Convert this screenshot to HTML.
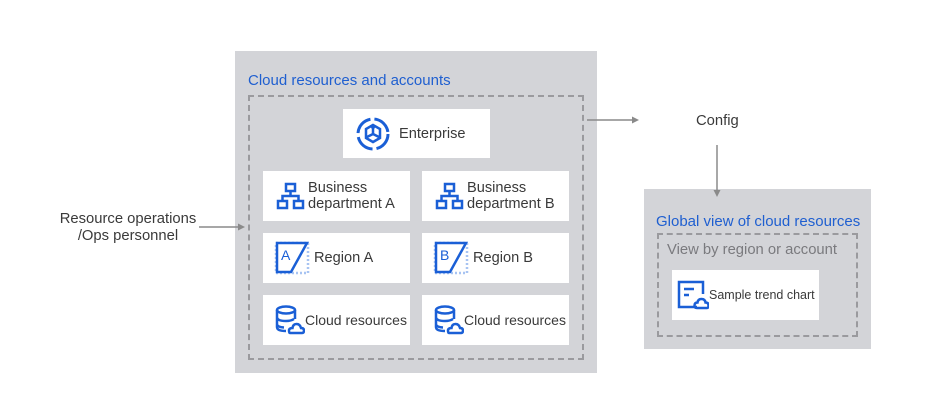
<!DOCTYPE html>
<html><head><style>
body{margin:0;width:948px;height:419px;background:#fff;position:relative;font-family:"Liberation Sans",sans-serif;overflow:hidden}
.a{position:absolute}
.g{background:#d3d4d8}
.d{border:2px dashed #9a9a9e;box-sizing:border-box}
.c{background:#fff;position:absolute;display:flex;align-items:center;color:#3a3a3a;font-size:14.6px;line-height:16px;white-space:nowrap}
.t{color:#1f5fd0;font-size:15px;position:absolute}
svg{flex:none}
</style></head><body>
<div class="a g" style="left:235px;top:51px;width:362px;height:322px"></div>
<div class="t" style="left:248px;top:72px">Cloud resources and accounts</div>
<div class="a d" style="left:248px;top:95px;width:336px;height:265px"></div>

<div class="c" style="left:343px;top:109px;width:147px;height:49px">
<svg width="36" height="36" viewBox="0 0 36 36" style="margin-left:12px;margin-right:8px"><circle cx="18" cy="18" r="15" fill="none" stroke="#1a5fd6" stroke-width="3" stroke-dasharray="20 4"/><path d="M18 9 L25 13 L25 22 L18 26 L11 22 L11 13Z M18 18 L18 11 M18 18 L24 21 M18 18 L12 21" fill="none" stroke="#1a5fd6" stroke-width="2.5"/><circle cx="18" cy="11" r="2" fill="#1a5fd6"/></svg>Enterprise</div>

<div class="c" style="left:263px;top:171px;width:147px;height:50px">
<svg width="30" height="28" viewBox="0 0 30 28" style="margin-left:13px;margin-right:2px"><g fill="none" stroke="#1a5fd6" stroke-width="2.5"><rect x="10" y="2" width="9" height="7"/><rect x="2" y="19" width="9" height="7"/><rect x="18" y="19" width="9" height="7"/><path d="M14.5 9V14M6.5 19V14H22.5V19"/></g></svg><span>Business<br>department A</span></div>
<div class="c" style="left:422px;top:171px;width:147px;height:50px">
<svg width="30" height="28" viewBox="0 0 30 28" style="margin-left:13px;margin-right:2px"><g fill="none" stroke="#1a5fd6" stroke-width="2.5"><rect x="10" y="2" width="9" height="7"/><rect x="2" y="19" width="9" height="7"/><rect x="18" y="19" width="9" height="7"/><path d="M14.5 9V14M6.5 19V14H22.5V19"/></g></svg><span>Business<br>department B</span></div>

<div class="c" style="left:263px;top:233px;width:147px;height:50px">
<svg width="36" height="34" viewBox="0 0 36 34" style="margin-left:11px;margin-right:4px"><rect x="2" y="2" width="32" height="30" fill="none" stroke="#a8c4f2" stroke-width="2.5" stroke-dasharray="2 2"/><path d="M3 2H33L17 31H3Z" fill="#fff" stroke="#1a5fd6" stroke-width="2.5"/><text x="7" y="19" font-size="14" fill="#1a5fd6" font-family="Liberation Sans">A</text></svg>Region A</div>
<div class="c" style="left:422px;top:233px;width:147px;height:50px">
<svg width="36" height="34" viewBox="0 0 36 34" style="margin-left:11px;margin-right:4px"><rect x="2" y="2" width="32" height="30" fill="none" stroke="#a8c4f2" stroke-width="2.5" stroke-dasharray="2 2"/><path d="M3 2H33L17 31H3Z" fill="#fff" stroke="#1a5fd6" stroke-width="2.5"/><text x="7" y="19" font-size="14" fill="#1a5fd6" font-family="Liberation Sans">B</text></svg>Region B</div>

<div class="c" style="left:263px;top:295px;width:147px;height:50px;font-size:14px">
<svg width="30" height="30" viewBox="0 0 30 30" style="margin-left:12px"><g fill="none" stroke="#1a5fd6" stroke-width="2.5"><ellipse cx="11" cy="5" rx="9" ry="3.5"/><path d="M2 5V22Q2 26 11 26M20 5V14M2 12Q2 16 11 16Q16 16 19 14M2 19Q2 22 9 22.5"/><path d="M15 28H27Q29 28 29 25.5Q29 23 26 23Q25 19 21.5 19Q18 19 17.5 23Q14 23 14 25.5Q14 28 15 28Z"/></g></svg>Cloud resources</div>
<div class="c" style="left:422px;top:295px;width:147px;height:50px;font-size:14px">
<svg width="30" height="30" viewBox="0 0 30 30" style="margin-left:12px"><g fill="none" stroke="#1a5fd6" stroke-width="2.5"><ellipse cx="11" cy="5" rx="9" ry="3.5"/><path d="M2 5V22Q2 26 11 26M20 5V14M2 12Q2 16 11 16Q16 16 19 14M2 19Q2 22 9 22.5"/><path d="M15 28H27Q29 28 29 25.5Q29 23 26 23Q25 19 21.5 19Q18 19 17.5 23Q14 23 14 25.5Q14 28 15 28Z"/></g></svg>Cloud resources</div>

<div class="a" style="left:38px;top:211px;width:180px;text-align:center;font-size:14.8px;line-height:17px;color:#3a3a3a">Resource operations<br>/Ops personnel</div>
<div class="a" style="left:696px;top:113px;font-size:14.8px;color:#3a3a3a">Config</div>

<div class="a g" style="left:644px;top:189px;width:227px;height:160px"></div>
<div class="t" style="left:656px;top:213px">Global view of cloud resources</div>
<div class="a d" style="left:657px;top:233px;width:201px;height:104px"></div>
<div class="a" style="left:667px;top:242px;font-size:14.8px;color:#7a7a7e">View by region or account</div>
<div class="c" style="left:672px;top:270px;width:147px;height:50px;font-size:12.5px">
<svg width="32" height="30" viewBox="0 0 32 30" style="margin-left:5px"><g fill="none" stroke="#1a5fd6" stroke-width="2.5"><path d="M20 27H2V2H26V14"/><path d="M7 9H17M7 15H12"/><path d="M20 28H30Q31.5 28 31.5 25.5Q31.5 22.5 28.5 22.5Q28 19 24.5 19Q21 19 20.5 22.5Q17.5 22.5 17.5 25.5Q17.5 28 20 28Z"/></g></svg>Sample trend chart</div>

<svg class="a" style="left:0;top:0" width="948" height="419">
<g stroke="#8a8a8a" stroke-width="1.5" fill="#8a8a8a">
<line x1="199" y1="227" x2="240" y2="227"/><path d="M245 227L238 223.5V230.5Z" stroke="none"/>
<line x1="587" y1="120" x2="633" y2="120"/><path d="M639 120L632 116.5V123.5Z" stroke="none"/>
<line x1="717" y1="145" x2="717" y2="191"/><path d="M717 197L713.5 190H720.5Z" stroke="none"/>
</g></svg>
</body></html>
